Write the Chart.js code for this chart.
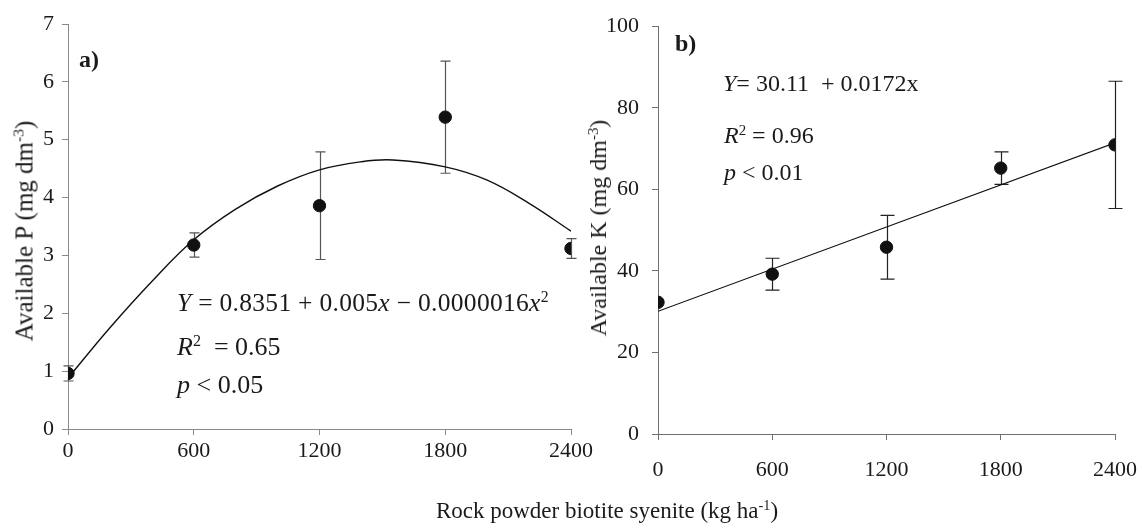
<!DOCTYPE html>
<html>
<head>
<meta charset="utf-8">
<script src="https://cdn.jsdelivr.net/npm/chart.js@4"></script>
<style>
  body { margin: 0; background: #fff; }
  #wrap { position: relative; width: 1142px; height: 528px; overflow: hidden; font-family: "Liberation Serif", serif; color: #1a1a1a; }
  canvas { position: absolute; left: 0; top: 0; }
  .txt { position: absolute; white-space: nowrap; line-height: 1; }
  .txt sup { font-size: 0.62em; vertical-align: 0.55em; line-height: 0; }
  .rot { transform: translate(-50%, -50%) rotate(-90deg); }
  .ctr { transform: translate(-50%, -50%); }
</style>
</head>
<body>
<div id="wrap">
  <canvas id="chartP" width="1142" height="528"></canvas>
  <canvas id="chartK" width="1142" height="528"></canvas>

  <div class="txt" style="left:79px; top:47px; font-size:24px; font-weight:bold;">a)</div>
  <div class="txt" style="left:177px; top:290px; font-size:25.5px; letter-spacing:0.3px;"><i>Y</i> = 0.8351 + 0.005<i>x</i> &minus; 0.0000016<i>x</i><sup>2</sup></div>
  <div class="txt" style="left:177px; top:334px; font-size:26px;"><i>R</i><sup>2</sup>&nbsp; = 0.65</div>
  <div class="txt" style="left:177px; top:372px; font-size:26px;"><i>p</i> &lt; 0.05</div>
  <div class="txt rot" style="left:24px; top:231px; font-size:25px;">Available P (mg dm<sup>-3</sup>)</div>

  <div class="txt" style="left:675px; top:31px; font-size:24px; font-weight:bold;">b)</div>
  <div class="txt" style="left:723px; top:71px; font-size:24px;"><i>Y</i>= 30.11&nbsp; + 0.0172x</div>
  <div class="txt" style="left:724px; top:123px; font-size:24px;"><i>R</i><sup>2</sup> = 0.96</div>
  <div class="txt" style="left:724px; top:160px; font-size:24px;"><i>p</i> &lt; 0.01</div>
  <div class="txt rot" style="left:598px; top:228px; font-size:24px;">Available K (mg dm<sup>-3</sup>)</div>

  <div class="txt ctr" style="left:607px; top:510px; font-size:23px;">Rock powder biotite syenite (kg ha<sup>-1</sup>)</div>
</div>

<script>
// doses of rock powder (kg/ha)
const doses = [0, 600, 1200, 1800, 2400];
const xTicks = [0, 600, 1200, 1800, 2400];

// panel a) available P
const pMeans = [0.96, 3.18, 3.86, 5.39, 3.12];
const pErrors = [0.13, 0.21, 0.93, 0.97, 0.17];
// fitted curve
const pCurveX = [0, 200, 400, 600, 800, 1000, 1200, 1400, 1550, 1800, 2000, 2200, 2400];
const pCurveY = [0.88, 1.75, 2.55, 3.27, 3.8, 4.2, 4.48, 4.62, 4.65, 4.53, 4.3, 3.9, 3.42];

// panel b) available K
const kMeans = [32.3, 39.2, 45.8, 65.2, 70.9];
const kErrors = [0, 3.9, 7.8, 4.0, 15.6];
const kLineX = [0, 2400];
const kLineY = [30.1, 71.4];

const serif = "Liberation Serif";

// vertical error bars with caps, drawn under the markers
const errorBars = {
  id: "errorBars",
  beforeDatasetsDraw(chart, args, opts) {
    const { ctx, scales: { x, y } } = chart;
    ctx.save();
    ctx.strokeStyle = opts.color;
    ctx.lineWidth = opts.width;
    opts.means.forEach((m, i) => {
      if (!opts.errors[i]) return;
      const px = Math.round(x.getPixelForValue(opts.xs[i])) + 0.5;
      const top = y.getPixelForValue(m + opts.errors[i]);
      const bot = y.getPixelForValue(m - opts.errors[i]);
      ctx.beginPath();
      ctx.moveTo(px, top); ctx.lineTo(px, bot);
      ctx.moveTo(px - opts.cap, top); ctx.lineTo(px + opts.cap, top);
      ctx.moveTo(px - opts.cap, bot); ctx.lineTo(px + opts.cap, bot);
      ctx.stroke();
    });
    ctx.restore();
  }
};

function makeChart(id, cfg) {
  const axisColor = cfg.axisColor;
  return new Chart(document.getElementById(id), {
    type: "scatter",
    data: {
      datasets: [
        {
          data: cfg.lineX.map((v, i) => ({ x: v, y: cfg.lineY[i] })),
          showLine: true,
          borderColor: "#111",
          borderWidth: cfg.lineWidth,
          pointRadius: 0,
          tension: 0.4,
          fill: false,
        },
        {
          data: doses.map((d, i) => ({ x: d, y: cfg.means[i] })),
          pointRadius: 6.2,
          pointBackgroundColor: "#111",
          pointBorderColor: "#111",
          showLine: false,
        },
      ],
    },
    options: {
      responsive: false,
      animation: false,
      devicePixelRatio: 1,
      layout: { padding: cfg.padding },
      plugins: {
        legend: { display: false },
        tooltip: { enabled: false },
        errorBars: { xs: doses, means: cfg.means, errors: cfg.errors, color: cfg.barColor, width: 1.2, cap: cfg.cap },
      },
      scales: {
        x: {
          type: "linear",
          min: 0,
          max: 2400,
          afterBuildTicks: (s) => { s.ticks = xTicks.map((v) => ({ value: v })); },
          afterFit: (s) => { s.height = cfg.xHeight; s.paddingLeft = 0; s.paddingRight = 0; },
          ticks: { color: "#1a1a1a", font: { family: serif, size: 22 }, padding: cfg.xPad, maxRotation: 0,
                   callback: (v) => String(v) },
          grid: { drawOnChartArea: false, drawTicks: true, tickLength: 6, color: axisColor },
          border: { color: axisColor, width: 1 },
        },
        y: {
          min: 0,
          max: cfg.yMax,
          ticks: { stepSize: cfg.yStep, color: "#1a1a1a", font: { family: serif, size: 22 }, padding: cfg.yPad,
                   callback: (v) => String(v) },
          afterFit: (s) => { s.width = cfg.yWidth; },
          grid: { drawOnChartArea: false, drawTicks: true, tickLength: 6, color: axisColor },
          border: { color: axisColor, width: 1 },
        },
      },
    },
    plugins: [errorBars],
  });
}

makeChart("chartP", {
  means: pMeans, errors: pErrors, lineX: pCurveX, lineY: pCurveY,
  yMax: 7, yStep: 1, axisColor: "#8a8a8a", barColor: "#555", cap: 5, lineWidth: 1.4,
  padding: { left: 0, top: 24, right: 571, bottom: 0 },
  yWidth: 68, xHeight: 99, xPad: 3, yPad: 8,
});

makeChart("chartK", {
  means: kMeans, errors: kErrors, lineX: kLineX, lineY: kLineY,
  yMax: 100, yStep: 20, axisColor: "#707070", barColor: "#222", cap: 7, lineWidth: 1.1,
  padding: { left: 578, top: 19, right: 27, bottom: 0 },
  yWidth: 80, xHeight: 94, xPad: 17, yPad: 13,
});
</script>
</body>
</html>
